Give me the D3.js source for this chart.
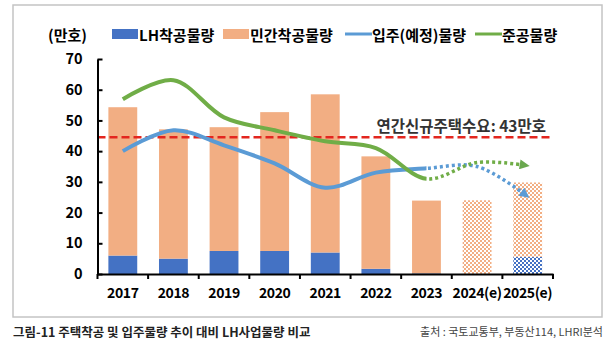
<!DOCTYPE html>
<html><head><meta charset="utf-8">
<script src="https://cdn.jsdelivr.net/npm/d3@7"></script>
<style>
html,body{margin:0;padding:0;background:#fff;}
svg{display:block;font-family:"Noto Sans CJK KR","Noto Sans",sans-serif;}
</style></head>
<body><svg id="c" width="615" height="348"></svg>
<script>
const categories = ["2017","2018","2019","2020","2021","2022","2023","2024(e)","2025(e)"];
const estimated = [false,false,false,false,false,false,false,true,true];
const lhStarts = [6, 5, 7.5, 7.5, 7, 1.7, 0.2, 0, 5.6];
const privateStarts = [48.3, 42.1, 40.3, 45.2, 51.5, 36.6, 23.7, 24, 24.2];
const moveIns = [40, 46.8, 41.9, 36, 28.1, 33, 34.4, 35, 25.2];
const completions = [56.9, 63.1, 51, 46.8, 43.2, 41, 31, 36.3, 35.3];
const demandLine = 44.5;
const demandLabel = "연간신규주택수요: 43만호";
const yTicks = [0,10,20,30,40,50,60,70];
const lastActual = "2023";

const C = {lh:"#4472C4", pr:"#F2AE83", blue:"#5B9BD5", green:"#70AD47", red:"#E3261F"};
const svg = d3.select("#c");
const defs = svg.append("defs");

function checker(id, color){
  const p = defs.append("pattern").attr("id",id).attr("width",4).attr("height",4)
    .attr("patternUnits","userSpaceOnUse");
  p.append("rect").attr("width",4).attr("height",4).attr("fill","#fff");
  p.append("rect").attr("width",2).attr("height",2).attr("fill",color);
  p.append("rect").attr("x",2).attr("y",2).attr("width",2).attr("height",2).attr("fill",color);
}
checker("patPr", C.pr);
checker("patLh", C.lh);

// frame
svg.append("rect").attr("x",13).attr("y",5).attr("width",589).attr("height",312)
  .attr("fill","none").attr("stroke","#c4c4c4").attr("stroke-width",1.5);

const x = d3.scaleBand().domain(categories).range([97.5,553]).paddingInner(0.43).paddingOuter(0.215);
const y = d3.scaleLinear().domain([0,70]).range([274,59]);

// bars
const g = svg.append("g");
categories.forEach((c,i)=>{
  g.append("rect").attr("x",x(c)).attr("width",x.bandwidth())
    .attr("y",y(lhStarts[i])).attr("height",y(0)-y(lhStarts[i]))
    .attr("fill", estimated[i] ? "url(#patLh)" : C.lh);
  g.append("rect").attr("x",x(c)).attr("width",x.bandwidth())
    .attr("y",y(lhStarts[i]+privateStarts[i])).attr("height",y(lhStarts[i])-y(lhStarts[i]+privateStarts[i]))
    .attr("fill", estimated[i] ? "url(#patPr)" : C.pr);
});

// demand line
svg.append("line").attr("x1",97.5).attr("x2",553).attr("y1",y(demandLine)).attr("y2",y(demandLine))
  .attr("stroke",C.red).attr("stroke-width",2.5).attr("stroke-dasharray","8,4");
svg.append("text").attr("x",546).attr("y",y(demandLine)-12).attr("text-anchor","end")
  .attr("dominant-baseline","central").attr("font-size",15.5).attr("font-weight",700)
  .attr("fill","#333").text(demandLabel);

// lines
const splitX = x(lastActual)+x.bandwidth()/2;
defs.append("clipPath").attr("id","clipSolid").append("rect").attr("x",0).attr("y",0).attr("width",splitX).attr("height",348);
defs.append("clipPath").attr("id","clipDot").append("rect").attr("x",splitX).attr("y",0).attr("width",615-splitX).attr("height",348);
function marker(id,color){
  defs.append("marker").attr("id",id).attr("viewBox","0 0 10 10").attr("refX",8).attr("refY",5)
    .attr("markerWidth",11).attr("markerHeight",10).attr("markerUnits","userSpaceOnUse").attr("orient","auto")
    .append("path").attr("d","M0,0 L10,5 L0,10 Z").attr("fill",color);
}
marker("arB",C.blue); marker("arG","#6AA84F");
const line = d3.line().x((d,i)=>x(categories[i])+x.bandwidth()/2).y(d=>y(d)).curve(d3.curveCatmullRom.alpha(0.5));
function drawSeries(vals,color,mk){
  svg.append("path").attr("d",line(vals)).attr("fill","none").attr("stroke",color)
    .attr("stroke-width",4).attr("clip-path","url(#clipSolid)");
  svg.append("path").attr("d",line(vals)).attr("fill","none").attr("stroke",color)
    .attr("stroke-width",3.5).attr("stroke-dasharray","3,3").attr("clip-path","url(#clipDot)")
    .attr("marker-end","url(#"+mk+")");
}
drawSeries(moveIns,C.blue,"arB");
drawSeries(completions,C.green,"arG");

// axes
const yAxis = d3.axisLeft(y).tickValues(yTicks).tickSizeInner(-5).tickSizeOuter(0).tickPadding(15);
const ya = svg.append("g").attr("transform","translate(97.5,0)").call(yAxis);
ya.select(".domain").attr("stroke","#000").attr("stroke-width",2);
ya.selectAll(".tick line").attr("stroke","#000").attr("stroke-width",2);
ya.selectAll("text").attr("font-size",14.5).attr("font-weight",700).attr("fill","#000")
  .attr("font-family","'Noto Sans CJK KR',sans-serif");

const xAxis = d3.axisBottom(x).tickSize(0).tickPadding(14);
const xa = svg.append("g").attr("transform","translate(0,274)").call(xAxis);
xa.select(".domain").attr("stroke","#000").attr("stroke-width",2);
xa.selectAll("text").attr("font-size",14).attr("font-weight",700).attr("fill","#000")
  .attr("letter-spacing",-0.4)
  .attr("font-family","'Noto Sans CJK KR',sans-serif");
const step = x.step();
const x0 = x(categories[0]) - step*x.paddingInner()/2;
d3.range(categories.length+1).forEach(i=>{
  xa.append("line").attr("x1",x0+i*step).attr("x2",x0+i*step).attr("y1",0).attr("y2",5)
    .attr("stroke","#000").attr("stroke-width",2);
});

// legend
const lg = svg.append("g").attr("font-size",15).attr("font-weight",700).attr("fill","#000");
lg.append("text").attr("x",48).attr("y",34).attr("dominant-baseline","central").text("(만호)");
const items = [
  {t:"LH착공물량",type:"rect",c:C.lh,x:112},
  {t:"민간착공물량",type:"rect",c:C.pr,x:223},
  {t:"입주(예정)물량",type:"line",c:C.blue,x:345},
  {t:"준공물량",type:"line",c:C.green,x:475}
];
items.forEach(it=>{
  if(it.type==="rect") lg.append("rect").attr("x",it.x).attr("y",29).attr("width",26).attr("height",10).attr("fill",it.c);
  else lg.append("line").attr("x1",it.x).attr("x2",it.x+27).attr("y1",34).attr("y2",34).attr("stroke",it.c).attr("stroke-width",3);
  lg.append("text").attr("x",it.x+27).attr("y",34).attr("dominant-baseline","central").text(it.t);
});

// caption
svg.append("text").attr("x",13).attr("y",331).attr("dominant-baseline","central")
  .attr("font-size",12.5).attr("font-weight",700).attr("fill","#222")
  .text("그림-11 주택착공 및 입주물량 추이 대비 LH사업물량 비교");
svg.append("text").attr("x",603).attr("y",331).attr("dominant-baseline","central").attr("text-anchor","end")
  .attr("font-size",11).attr("fill","#444")
  .text("출처 : 국토교통부, 부동산114, LHRI분석");
</script></body></html>
